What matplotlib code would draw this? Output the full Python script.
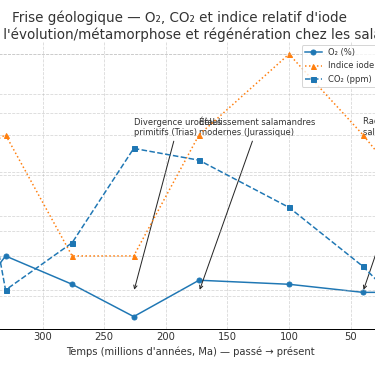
import matplotlib.pyplot as plt

# ages (Ma) and series
ages = [360, 330, 276, 226, 173, 100, 40, 0]
o2 = [18, 30, 23, 15, 24, 23, 21, 21]
iode = [0.75, 0.8, 0.5, 0.5, 0.8, 1.0, 0.8, 0.65]
co2 = [2200, 500, 900, 1700, 1600, 1200, 700, 280]

events = [226, 173, 40]
event_labels = ["Divergence urodèles\nprimitifs (Trias)",
                "Établissement salamandres\nmodernes (Jurassique)",
                "Radiation des\nsalamandres (Cénozoïque)"]

title = ("Frise géologique — O₂, CO₂ et indice relatif d'iode\n"
         "en lien avec l'évolution/métamorphose et régénération chez les salamandres")

plt.rcParams['text.color'] = '0.2'
plt.rcParams['axes.labelcolor'] = '0.2'
plt.rcParams['xtick.color'] = '0.2'
plt.rcParams['ytick.color'] = '0.2'

fig = plt.figure(figsize=(375 / 72, 366 / 72), dpi=72)
ax1 = fig.add_axes([-0.1429, 0.1011, 1.3013, 0.7842])
ax2 = ax1.twinx()
ax3 = ax1.twinx()

l1, = ax1.plot(ages, o2, '-o', color='tab:blue', ms=5, label='O₂ (%)')
l2, = ax2.plot(ages, iode, ':^', color='tab:orange', ms=5, label='Indice iode (relatif)')
l3, = ax3.plot(ages, co2, '--s', color='tab:blue', ms=5, label='CO₂ (ppm)')

ax1.set_xlim(378, -18)
ax1.set_ylim(11.93, 82.97)
ax2.set_ylim(0.319, 1.03)
ax3.set_ylim(169.5, 2602)

ax1.set_xlabel("Temps (millions d'années, Ma) — passé → présent")
ax1.set_ylabel('O₂ (%)')
ax2.set_ylabel('Indice iode (relatif)')
ax3.set_ylabel('CO₂ (ppm)')
ax3.spines['right'].set_position(('axes', 1.12))

ax1.grid(True, linestyle='--', alpha=0.5)
ax3.grid(True, axis='y', linestyle='--', alpha=0.5)
ax1.tick_params(axis='x', length=0)
for ax in (ax1, ax2, ax3):
    ax.spines['top'].set_visible(False)

# event annotations
for age, txt in zip(events, event_labels):
    ax1.annotate(txt, xy=(age, 0.13), xycoords=('data', 'axes fraction'),
                 xytext=(age, 0.675), textcoords=('data', 'axes fraction'),
                 ha='left', fontsize='small',
                 arrowprops=dict(arrowstyle='->', color='0.15', lw=1))

ax3.legend(handles=[l1, l2, l3], loc='upper left', fontsize='small',
           bbox_to_anchor=(301.7 / 375, 1 - 45 / 366),
           bbox_transform=fig.transFigure, borderaxespad=0)

fig.text(179 / 375, 1 - 38.5 / 366, title, ha='center', va='baseline', fontsize=13.5)

fig.savefig('out.png', dpi=72)
